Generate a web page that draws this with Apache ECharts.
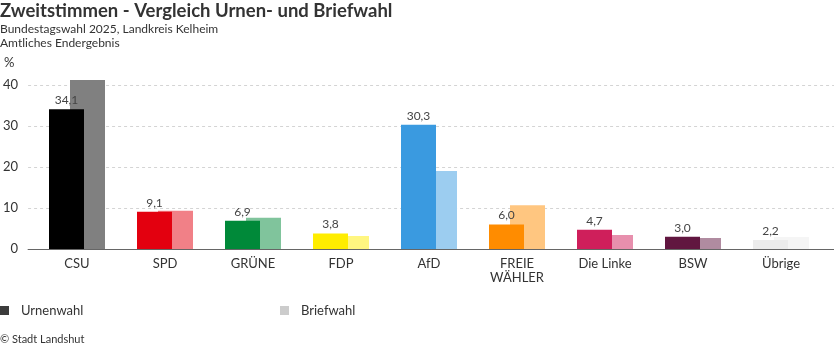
<!DOCTYPE html>
<html>
<head>
<meta charset="utf-8">
<script src="https://cdn.jsdelivr.net/npm/echarts@6/dist/echarts.min.js"></script>
<style>
html,body{margin:0;padding:0;background:#fff;}
#chart{width:834px;height:352px;}
</style>
</head>
<body>
<div id="chart"></div>
<script>
/*Parteien*/
var parties = ['CSU', 'SPD', 'GRÜNE', 'FDP', 'AfD', 'FREIE\nWÄHLER', 'Die Linke', 'BSW', 'Übrige'];
/*Urnenwahl %*/
var urnen = [34.1, 9.1, 6.9, 3.8, 30.3, 6.0, 4.7, 3.0, 2.2];
/*Briefwahl %*/
var brief = [41.2, 9.3, 7.6, 3.2, 19.0, 10.7, 3.4, 2.7, 2.9];
var colorsUrne = ['#000000', '#e3000f', '#008939', '#ffed00', '#3a9ae0', '#ff8c00', '#cf1f5b', '#611640', '#ececec'];
var colorsBrief = ['#808080', '#f18087', '#80c49c', '#fff680', '#9ccdf0', '#ffc680', '#e78fad', '#b08ba0', '#f5f5f5'];
var yTicks = [0, 10, 20, 30, 40];

var font = 'Lato';
var txt = '#333';

var myChart = echarts.init(document.getElementById('chart'));

function fmt(v){
    return v.toFixed(1).replace('.', ',');
}

var urnenData = [], briefData = [];
for (var i = 0; i < parties.length; i++) {
    urnenData.push({value: urnen[i], itemStyle: {color: colorsUrne[i]}});
    briefData.push({value: brief[i], itemStyle: {color: colorsBrief[i]}});
}

myChart.setOption({
    animation: false,
    textStyle: {fontFamily: font},
    title: [
        {text: 'Zweitstimmen - Vergleich Urnen- und Briefwahl', left: 0, top: 2, padding: 0,
            textStyle: {fontFamily: font, fontSize: 18.5, fontWeight: 'bold', color: txt}},
        {text: 'Bundestagswahl 2025, Landkreis Kelheim', left: 0, top: 23, padding: 0,
            textStyle: {fontFamily: font, fontSize: 12, fontWeight: 'normal', color: txt}},
        {text: 'Amtliches Endergebnis', left: 0, top: 37, padding: 0,
            textStyle: {fontFamily: font, fontSize: 12, fontWeight: 'normal', color: txt}},
        {text: '%', left: 4, top: 56, padding: 0,
            textStyle: {fontFamily: font, fontSize: 13, fontWeight: 'normal', color: txt}},
        {text: '© Stadt Landshut', left: 0, top: 334, padding: 0,
            textStyle: {fontFamily: font, fontSize: 11, fontWeight: 'normal', color: txt}}
    ],
    legend: [
        {data: ['Urnenwahl'], left: 0, top: 304, padding: 0, itemWidth: 9, itemHeight: 9, itemGap: 12,
            icon: 'rect', textStyle: {fontFamily: font, fontSize: 13, color: txt, padding: [0, 0, 0, 7]}},
        {data: ['Briefwahl'], left: 280, top: 304, padding: 0, itemWidth: 9, itemHeight: 9, itemGap: 12,
            icon: 'rect', textStyle: {fontFamily: font, fontSize: 13, color: txt, padding: [0, 0, 0, 7]}}
    ],
    grid: [
        {left: 24, right: 0, top: 85, height: 164},
        {left: 33, right: 9, top: 85, height: 164}
    ],
    xAxis: [
        {gridIndex: 0, type: 'value', min: 0, max: 1,
            axisLine: {show: true, lineStyle: {color: '#666', width: 1}},
            axisTick: {show: false}, axisLabel: {show: false}, splitLine: {show: false}},
        {gridIndex: 1, type: 'category', data: parties,
            axisLine: {show: false}, axisTick: {show: false},
            axisLabel: {fontFamily: font, fontSize: 13, color: txt, margin: 8, lineHeight: 14, interval: 0}}
    ],
    yAxis: [
        {gridIndex: 0, type: 'value', min: yTicks[0], max: yTicks[yTicks.length - 1], interval: 10,
            axisLine: {show: false}, axisTick: {show: false},
            axisLabel: {fontFamily: font, fontSize: 13, color: txt, margin: 10},
            splitLine: {show: true, lineStyle: {color: '#d4d4d4', type: [3, 3], width: 1}}},
        {gridIndex: 1, type: 'value', min: yTicks[0], max: yTicks[yTicks.length - 1], interval: 10, show: false,
            splitLine: {show: false}}
    ],
    series: [
        {
            name: 'Urnenwahl', type: 'bar', xAxisIndex: 1, yAxisIndex: 1,
            data: urnenData, barWidth: 35, barGap: '-40%', z: 3, clip: false,
            itemStyle: {color: '#3c3c3c'},
            label: {show: true, position: 'top', distance: 3, fontFamily: font, fontSize: 12, color: '#444',
                formatter: function(p){ return fmt(p.value); }}
        },
        {
            name: 'Briefwahl', type: 'bar', xAxisIndex: 1, yAxisIndex: 1,
            data: briefData, barWidth: 35, barGap: '-40%', z: 2, clip: false,
            itemStyle: {color: '#cccccc'}
        }
    ]
});
</script>
</body>
</html>
